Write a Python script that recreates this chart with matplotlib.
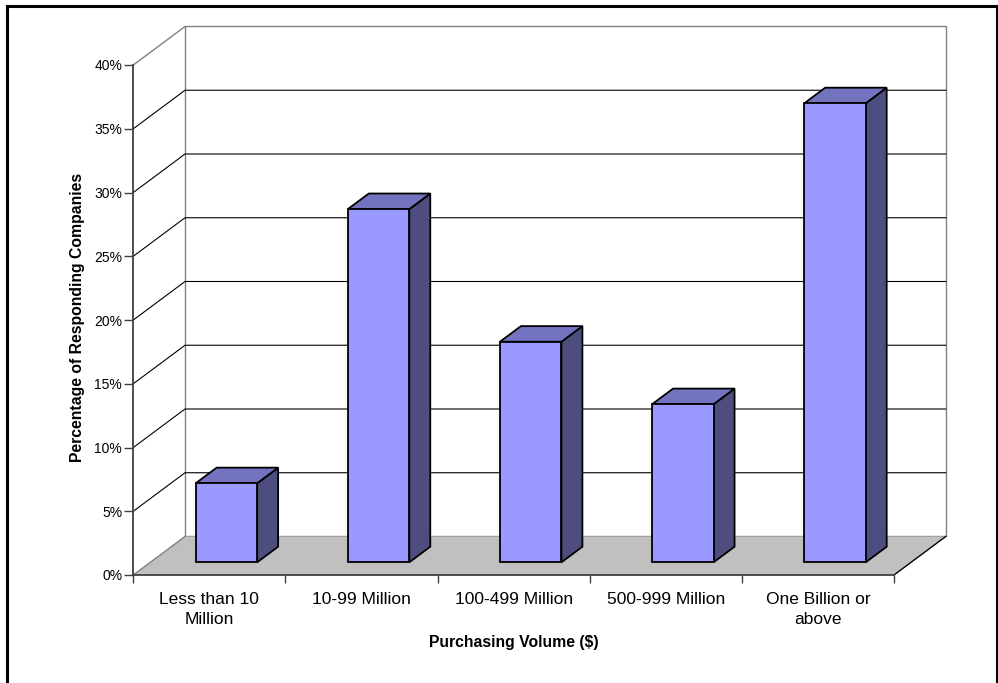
import matplotlib
matplotlib.use("Agg")
import matplotlib.pyplot as plt
from matplotlib.patches import Polygon, Rectangle

plt.rcParams['font.family'] = ['Liberation Sans', 'DejaVu Sans']

categories = ["Less than 10\nMillion", "10-99 Million", "100-499 Million",
              "500-999 Million", "One Billion or\nabove"]
percentages = [6.2, 27.7, 17.3, 12.4, 36.0]
y_ticks = [0, 5, 10, 15, 20, 25, 30, 35, 40]
y_tick_labels = [f"{t}%" for t in y_ticks]

# oblique depth of the 3-D box, in data units (categories, percent)
DX, DY = 0.34, 3.02
BAR_W = 0.404
DEPTH_START, DEPTH_LEN = 0.33, 0.405

FRONT = "#9999FF"
TOP = "#7373BF"
SIDE = "#4D4D80"
FLOOR = "#C0C0C0"
WALL_EDGE = "#808080"

W_PX, H_PX = 998, 683
fig = plt.figure(figsize=(W_PX / 100, H_PX / 100), dpi=100)
ax = fig.add_axes([133.3 / W_PX, (H_PX - 575) / H_PX, 760.7 / W_PX, 510 / H_PX])
ax.set_xlim(0, len(categories))
ax.set_ylim(0, y_ticks[-1])
ax.patch.set_visible(False)

n = len(categories)
top = y_ticks[-1]

# walls
ax.add_patch(Polygon([(DX, DY), (n + DX, DY), (n + DX, top + DY), (DX, top + DY)],
                     closed=True, facecolor="white", edgecolor=WALL_EDGE, lw=1.0,
                     clip_on=False, zorder=1))
ax.plot([0, DX], [top, top + DY], color=WALL_EDGE, lw=1.0, clip_on=False, zorder=2)

# gridlines on the side and back walls
for t in y_ticks[1:-1]:
    ax.plot([0, DX, n + DX], [t, t + DY, t + DY], color="black", lw=0.8,
            clip_on=False, zorder=2)

# floor
ax.add_patch(Polygon([(0, 0), (n, 0), (n + DX, DY), (DX, DY)], closed=True,
                     facecolor=FLOOR, edgecolor="none", clip_on=False, zorder=3))
ax.plot([0, DX], [0, DY], color=WALL_EDGE, lw=1.0, clip_on=False, zorder=3)
ax.plot([n, n + DX], [0, DY], color="black", lw=1.0, clip_on=False, zorder=3)

# 3-D bars
for i, v in enumerate(percentages):
    x0 = i + 0.5 - BAR_W / 2 + DEPTH_START * DX
    y0 = DEPTH_START * DY
    ddx, ddy = DEPTH_LEN * DX, DEPTH_LEN * DY
    edge = dict(edgecolor="black", lw=1.3, joinstyle="miter", clip_on=False, zorder=5)
    ax.add_patch(Polygon([(x0 + BAR_W, y0), (x0 + BAR_W + ddx, y0 + ddy),
                          (x0 + BAR_W + ddx, y0 + v + ddy), (x0 + BAR_W, y0 + v)],
                         closed=True, facecolor=SIDE, **edge))
    ax.add_patch(Polygon([(x0, y0 + v), (x0 + BAR_W, y0 + v),
                          (x0 + BAR_W + ddx, y0 + v + ddy), (x0 + ddx, y0 + v + ddy)],
                         closed=True, facecolor=TOP, **edge))
    ax.add_patch(Rectangle((x0, y0), BAR_W, v, facecolor=FRONT, **edge))

# axes lines and ticks
for side in ("top", "right"):
    ax.spines[side].set_visible(False)
ax.spines["left"].set_color("#404040")
ax.spines["left"].set_linewidth(1.3)
ax.spines["bottom"].set_color("#404040")
ax.spines["bottom"].set_linewidth(1.3)
ax.spines["left"].set_zorder(6)
ax.spines["bottom"].set_zorder(6)

ax.set_yticks(y_ticks)
ax.set_yticklabels(y_tick_labels, fontsize=10)
ax.tick_params(axis="y", length=6.5, width=1.0, color="#404040", pad=1.5)

ax.set_xticks(range(n + 1))
ax.set_xticklabels([""] * (n + 1))
ax.tick_params(axis="x", which="major", length=6, width=1.0, color="#404040")
ax.set_xticks([i + 0.5 for i in range(n)], minor=True)
ax.set_xticklabels(categories, minor=True, fontsize=12.5, linespacing=1.4)
ax.tick_params(axis="x", which="minor", length=0, pad=12.5)

fig.text(77.5 / W_PX, 1 - 317 / H_PX, "Percentage of Responding Companies",
         rotation=90, ha="center", va="center", fontsize=11.3, fontweight="bold")
fig.text(513.8 / W_PX, 1 - 643 / H_PX, "Purchasing Volume ($)",
         ha="center", va="center", fontsize=11.3, fontweight="bold")

# outer frame, open at the bottom edge
fig.add_artist(Rectangle((6.5 / W_PX, -0.05), 990 / W_PX, 1.05 - 6.5 / H_PX,
                         transform=fig.transFigure, fill=False, edgecolor="black",
                         lw=2.2))

fig.savefig("out.png", dpi=100)
